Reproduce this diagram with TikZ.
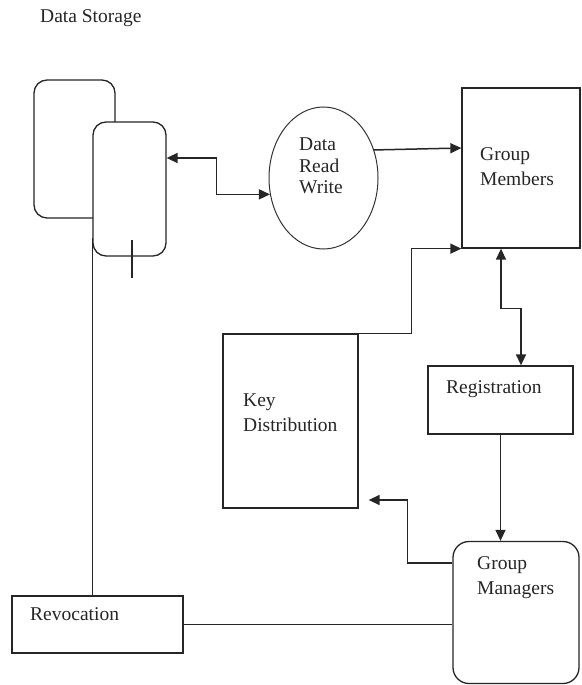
\documentclass[tikz,border=0pt]{standalone}
\usepackage{fontspec}
\setmainfont{Liberation Serif}
\usetikzlibrary{shapes.geometric,arrows.meta}
\begin{document}
\begin{tikzpicture}[x=1pt,y=-1pt,
  box/.style={draw=black!85,line width=1.3pt,inner sep=0pt},
  rbox/.style={box,rounded corners=13pt},
  lbl/.style={inner sep=0pt,align=left,text=black!85,font=\fontsize{19.5}{25}\selectfont},
  conn/.style={draw=black!85,line width=1.5pt},
  arr/.style={conn,-{Triangle[length=11pt,width=10pt]}},
  darr/.style={conn,{Triangle[length=11pt,width=10pt]}-{Triangle[length=11pt,width=10pt]}}]
\useasboundingbox[fill=white] (0,0) rectangle (581,685);

% title
\node[lbl,anchor=base west] (title) at (40,23) {Data Storage};

% data storage
\draw[rbox] (34,80) rectangle (115,218);
\node[rbox,fill=white,minimum width=73pt,minimum height=134pt] (ds) at (129.5,189) {};

% ellipse
\node[draw=black!80,line width=1pt,ellipse,minimum width=109pt,minimum height=142pt,inner sep=0pt] (drw) at (323.5,178) {};
\node[lbl,anchor=west,font=\fontsize{19.5}{21.5}\selectfont] (drwt) at (299,166) {Data\\Read\\Write};

% boxes
\node[box,minimum width=118pt,minimum height=160pt] (gm) at (521,168) {};
\node[lbl,anchor=west] (gmt) at (480,166.5) {Group\\Members};

\node[box,minimum width=145pt,minimum height=68pt] (reg) at (500.5,400) {};
\node[lbl,anchor=base west] (regt) at (446,393.5) {Registration};

\node[box,minimum width=135pt,minimum height=174pt] (kd) at (290.5,421) {};
\node[lbl,anchor=west] (kdt) at (243,412.5) {Key\\Distribution};

\node[rbox,rounded corners=16pt,minimum width=126pt,minimum height=142pt] (gmg) at (516,612.5) {};
\node[lbl,anchor=west] (gmgt) at (477,577.5) {Group\\Managers};

\node[box,minimum width=171pt,minimum height=57pt] (rev) at (97.5,624.5) {};
\node[lbl,anchor=base west] (revt) at (30,620.5) {Revocation};

% connectors
\draw[darr] ([yshift=31pt]ds.east) -- ++(50,0) |- (drw.197);
\draw[arr] (drw.29) -- ([yshift=20pt]gm.west);
\draw[arr] (kd.north east) -- ++(53,0) |- (gm.south west);
\draw[darr] ([xshift=-20pt]gm.south) -- ++(0,60) -| ([xshift=20.5pt]reg.north);
\draw[arr] (reg.south) -- (reg.south |- gmg.north);
\draw[arr] ([yshift=49.5pt]gmg.west) -- ++(-45,0) |- ([xshift=10pt,yshift=-79pt]kd.east);
\draw[conn] (rev.east) -- (rev.east -| gmg.west);
\draw[conn] ([yshift=-49pt]ds.west) -- (ds.west |- rev.north);
\draw[conn,line width=2.2pt] ([xshift=2.5pt,yshift=-51pt]ds.center) -- ++(0,38);
\end{tikzpicture}
\end{document}
